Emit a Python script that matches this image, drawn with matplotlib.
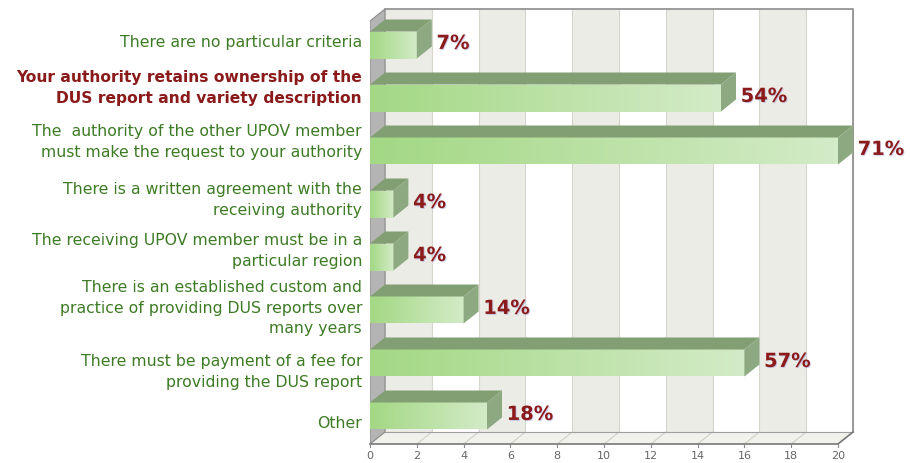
import numpy as np
import matplotlib
matplotlib.use("Agg")
import matplotlib.pyplot as plt
from matplotlib.patches import Polygon
from matplotlib.colors import LinearSegmentedColormap
import matplotlib.patheffects as pe

# data
categories = [
    "There are no particular criteria",
    "Your authority retains ownership of the\nDUS report and variety description",
    "The  authority of the other UPOV member\nmust make the request to your authority",
    "There is a written agreement with the\nreceiving authority",
    "The receiving UPOV member must be in a\nparticular region",
    "There is an established custom and\npractice of providing DUS reports over\nmany years",
    "There must be payment of a fee for\nproviding the DUS report",
    "Other",
]
counts = [2, 15, 20, 1, 1, 4, 16, 5]
pct_labels = ["7%", "54%", "71%", "4%", "4%", "14%", "57%", "18%"]
highlight = 1
xticks = list(range(0, 21, 2))

# category label nudges (pixels, + = down)
label_nudge = [-3, -11, -10, -5, -7, -3, 8, 7]

# 3d look
ROW = 53.0     # pixels per row
PX = 23.4      # pixels per x unit
DX = 15 / PX   # depth in x units
DY = 12 / ROW  # depth in row units (upwards)
H = 27 / ROW   # bar thickness
Y_BOT = (445 - 46) / ROW
Y_TOP = (10 - 46) / ROW
Y_LIM_TOP = (5 - 46) / ROW

fig = plt.figure(figsize=(9.1, 4.64), dpi=100)
ax = fig.add_axes([370 / 910, 19 / 464, 490 / 910, 440 / 464])
ax.axis("off")

xmax = xticks[-1]

# back wall with bands
ax.add_patch(Polygon([(DX, Y_TOP), (xmax + DX, Y_TOP), (xmax + DX, Y_BOT - DY), (DX, Y_BOT - DY)],
                     closed=True, fc="white", ec="none", zorder=0))
for i, t in enumerate(xticks[:-1]):
    if i % 2 == 0:
        ax.add_patch(Polygon([(t + DX, Y_TOP), (t + 2 + DX, Y_TOP), (t + 2 + DX, Y_BOT - DY), (t + DX, Y_BOT - DY)],
                             closed=True, fc="#ECECE6", ec="none", zorder=0))
for t in xticks:
    ax.plot([t + DX, t + DX], [Y_TOP, Y_BOT - DY], color="#D6D6CE", lw=0.8, zorder=0.5)

# floor
ax.add_patch(Polygon([(0, Y_BOT), (xmax, Y_BOT), (xmax + DX, Y_BOT - DY), (DX, Y_BOT - DY)],
                     closed=True, fc="#F2F2EC", ec="none", zorder=0.6))
for t in xticks:
    ax.plot([t, t + DX], [Y_BOT, Y_BOT - DY], color="#D0D0C8", lw=0.8, zorder=0.7)
    ax.plot([t, t], [Y_BOT, Y_BOT + 0.06], color="#888888", lw=0.8, clip_on=False, zorder=3)
    ax.text(t, Y_BOT + 0.21, str(t), ha="center", va="center", fontsize=8,
            color="#666666", clip_on=False)

# left wall
ax.add_patch(Polygon([(0, Y_BOT), (DX, Y_BOT - DY), (DX, Y_TOP), (0, Y_TOP + DY)],
                     closed=True, fc="#B4B4B4", ec="#8C8C8C", lw=0.8, zorder=0.8))

# frame lines
ax.plot([DX, xmax + DX, xmax + DX], [Y_TOP, Y_TOP, Y_BOT - DY], color="#8C8C8C", lw=1.2, zorder=0.9)
ax.plot([DX, xmax + DX], [Y_BOT - DY, Y_BOT - DY], color="#A0A0A0", lw=0.8, zorder=0.9)
ax.plot([0, xmax, xmax + DX], [Y_BOT, Y_BOT, Y_BOT - DY], color="#777777", lw=1.2, zorder=0.9, clip_on=False)

grad = LinearSegmentedColormap.from_list("g", ["#A3D884", "#D3EBC7"])
gvals = np.linspace(0, 1, 128).reshape(1, -1)

for i, (v, lab) in enumerate(zip(counts, pct_labels)):
    top = i - H / 2
    bot = i + H / 2
    # front face gradient
    ax.imshow(gvals, cmap=grad, extent=(0, v, bot, top), aspect="auto",
              interpolation="bilinear", zorder=2)
    # top face
    ax.add_patch(Polygon([(0, top), (v, top), (v + DX, top - DY), (DX, top - DY)],
                         closed=True, fc="#819F72", ec="none", zorder=2))
    # end face
    ax.add_patch(Polygon([(v, top), (v + DX, top - DY), (v + DX, bot - DY), (v, bot)],
                         closed=True, fc="#8DA982", ec="none", zorder=2))
    ax.text(v + DX + 0.2, i - 0.03, lab, ha="left", va="center", fontsize=14,
            fontweight="bold", color="#8B1A1A", zorder=4,
            path_effects=[pe.withSimplePatchShadow(offset=(0.7, -0.7), shadow_rgbFace="#6A6AD0", alpha=0.3)])

for i, cat in enumerate(categories):
    y = i + label_nudge[i] / ROW
    if i == highlight:
        ax.text(-0.34, y, cat, ha="right", va="center", multialignment="right",
                fontsize=11.2, fontweight="bold", color="#8B1A1A", linespacing=1.5, clip_on=False)
    else:
        ax.text(-0.34, y, cat, ha="right", va="center", multialignment="right",
                fontsize=11.3, color="#3D7B25", linespacing=1.5, clip_on=False)

ax.set_xlim(0, 490 / PX)
ax.set_ylim(Y_BOT, Y_LIM_TOP)

fig.savefig("out.png", dpi=100)
